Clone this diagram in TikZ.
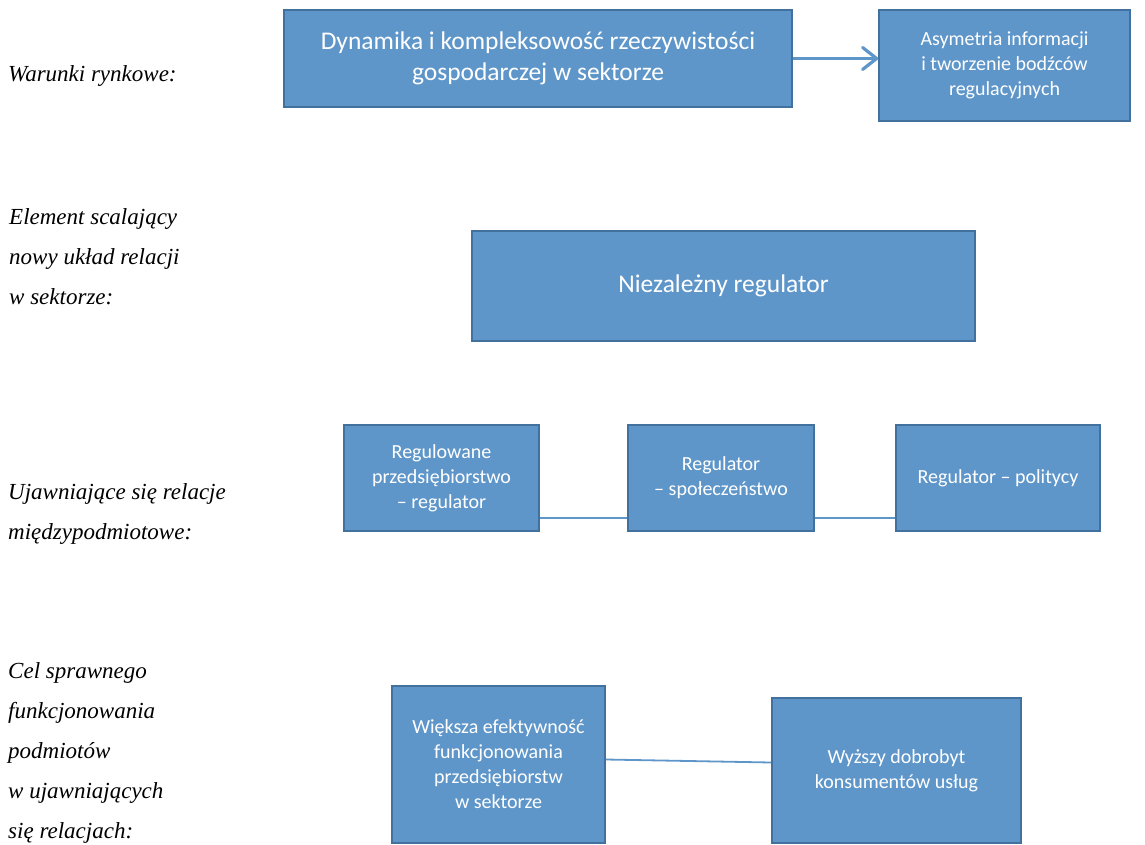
\documentclass[tikz,border=0pt]{standalone}
\usepackage{fontspec}
\setmainfont{Liberation Serif}
\newfontfamily\boxfont{Carlito}
\usepackage{tikz}
\usetikzlibrary{arrows.meta,positioning}

\definecolor{boxblue}{RGB}{95,150,201}
\definecolor{boxedge}{RGB}{65,113,156}

\begin{document}
\begin{tikzpicture}[
        x=1pt, y=-1pt,
        every node/.style={align=center},
        box/.style={draw=boxedge, line width=1.6pt, fill=boxblue, text=white, inner sep=2pt,
            font=\boxfont\fontsize{20}{25}\selectfont},
        bigbox/.style={box, font=\boxfont\fontsize{25.5}{30.5}\selectfont},
        lbl/.style={anchor=west, align=left, inner sep=0pt,
            font=\fontsize{23}{40}\selectfont\itshape},
        link/.style={draw=boxblue, line width=1.8pt}
    ]
    \useasboundingbox (0,0) rectangle (1145,845);

    % Labels
    \node[lbl] (warunki) at (8,76) {Warunki rynkowe:};
    \node[lbl] (element) at (9,257) {Element scalający\\nowy układ relacji\\w sektorze:};
    \node[lbl] (relacje) at (8,514) {Ujawniające się relacje\\międzypodmiotowe:};
    \node[lbl] (cel) at (8,753) {Cel sprawnego\\funkcjonowania\\podmiotów\\w ujawniających\\się relacjach:};

    % Nodes
    \node[bigbox, minimum width=508pt, minimum height=97pt] (dynamika) at (538,58.5)
        {Dynamika i kompleksowość rzeczywistości\\gospodarczej w sektorze};
    \node[box, minimum width=251pt, minimum height=111pt] (asymetria) at (1004.5,65.5)
        {Asymetria informacji\\i tworzenie bodźców\\regulacyjnych};
    \node[bigbox, minimum width=503pt, minimum height=110pt] (regulator) at (723.5,286)
        {Niezależny regulator};
    \node[box, minimum width=195pt, minimum height=106pt] (przeds) at (441.5,478)
        {Regulowane\\przedsiębiorstwo\\– regulator};
    \node[box, minimum width=186pt, minimum height=106pt] (spol) at (721,478)
        {Regulator\\– społeczeństwo};
    \node[box, minimum width=204pt, minimum height=106pt] (polit) at (998,478)
        {Regulator – politycy};
    \node[box, minimum width=213pt, minimum height=157pt] (efekt) at (498.5,764.5)
        {Większa efektywność\\funkcjonowania\\przedsiębiorstw\\w sektorze};
    \node[box, minimum width=249pt, minimum height=145pt] (dobrobyt) at (896.5,770.5)
        {Wyższy dobrobyt\\konsumentów usług};

    % Connectors
    \draw[link, -{Straight Barb[length=14pt,width=22pt,round]}, line width=3.2pt]
        (dynamika) -- (dynamika -| asymetria.west);
    \draw[link] ([yshift=-40pt]przeds.east) -- ([yshift=-40pt]spol.west);
    \draw[link] ([yshift=-40pt]spol.east) -- ([yshift=-40pt]polit.west);
    \draw[link] ([yshift=5pt]efekt.east) -- ([yshift=8pt]dobrobyt.west);

\end{tikzpicture}
\end{document}
